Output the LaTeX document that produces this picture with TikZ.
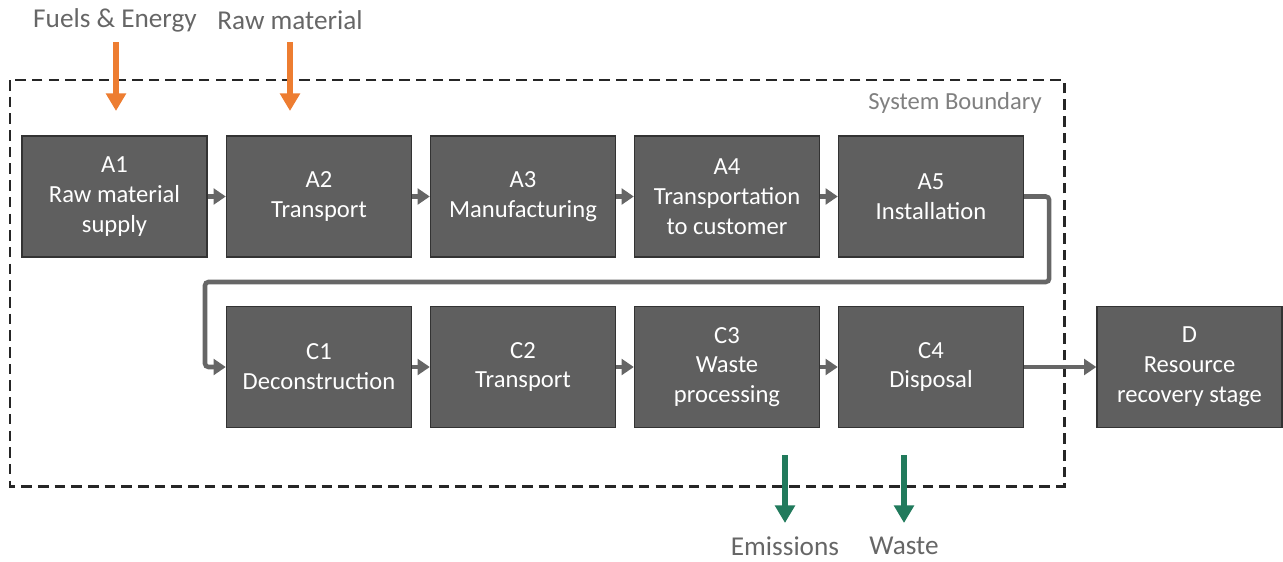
\documentclass[tikz,border=0pt]{standalone}
\usepackage{fontspec}
\setmainfont{Carlito}
\usetikzlibrary{arrows.meta}

\definecolor{boxgray}{HTML}{5F5F5F}
\definecolor{flowgray}{HTML}{666666}
\definecolor{inorange}{HTML}{ED7D31}
\definecolor{outgreen}{HTML}{217A5C}

\begin{document}
\begin{tikzpicture}[x=0.02cm, y=-0.02cm,
    stage/.style={draw=black!80, line width=0.8pt, fill=boxgray, text=white,
      minimum width=3.7cm, minimum height=2.42cm, align=center,
      font=\fontsize{14}{17}\selectfont},
    flow/.style={draw=flowgray, line width=2.6pt,
      -{Triangle[length=7pt, width=9pt]}},
    inflow/.style={draw=inorange, line width=3pt,
      -{Triangle[length=10pt, width=11pt]}},
    outflow/.style={draw=outgreen, line width=3pt,
      -{Triangle[length=10pt, width=11pt]}},
    lbl/.style={text=black!60, font=\fontsize{15.5}{18}\selectfont}]
    \useasboundingbox (0,0) rectangle (1283,561);

    % system boundary
    \draw[black!85, line width=1.7pt, dash pattern=on 6pt off 3.5pt]
      (10,80) rectangle (1064,486);
    \node[text=black!50, font=\fontsize{14}{17}\selectfont, anchor=east] (sb)
      at (1048,103) {System Boundary};

    % stages
    \node[stage] (a1) at (114.5,196.5) {A1\\Raw material\\supply};
    \node[stage] (a2) at (319,196.5) {A2\\Transport};
    \node[stage] (a3) at (523,196.5) {A3\\Manufacturing};
    \node[stage] (a4) at (727,196.5) {A4\\Transportation\\to customer};
    \node[stage] (a5) at (931,196.5) {A5\\Installation};
    \node[stage] (c1) at (319,367) {C1\\Deconstruction};
    \node[stage] (c2) at (523,367) {C2\\Transport};
    \node[stage] (c3) at (727,367) {C3\\Waste\\processing};
    \node[stage] (c4) at (931,367) {C4\\Disposal};
    \node[stage] (d) at (1189.5,367) {D\\Resource\\recovery stage};

    % flow between stages
    \draw[flow] (a1) -- (a2);
    \draw[flow] (a2) -- (a3);
    \draw[flow] (a3) -- (a4);
    \draw[flow] (a4) -- (a5);
    \draw[flow, rounded corners=2pt] (a5.east) -- ++(25,0) |- (205,282) |- (c1.west);
    \draw[flow] (c1) -- (c2);
    \draw[flow] (c2) -- (c3);
    \draw[flow] (c3) -- (c4);
    \draw[flow] (c4) -- (d);

    % inputs
    \node[lbl] (fuel) at (115,20) {Fuels \& Energy};
    \node[lbl] (raw) at (290,20) {Raw material};
    \coordinate (fuelin) at (116,111);
    \coordinate (rawin) at (290,111);
    \draw[inflow] (116,42) -- (fuelin);
    \draw[inflow] (290,42) -- (rawin);

    % outputs
    \node[lbl] (emis) at (785,546) {Emissions};
    \node[lbl] (waste) at (904,546) {Waste};
    \coordinate (emisout) at (785,455);
    \coordinate (wasteout) at (904,455);
    \draw[outflow] (emisout) -- (785,523);
    \draw[outflow] (wasteout) -- (904,523);
  \end{tikzpicture}
\end{document}
